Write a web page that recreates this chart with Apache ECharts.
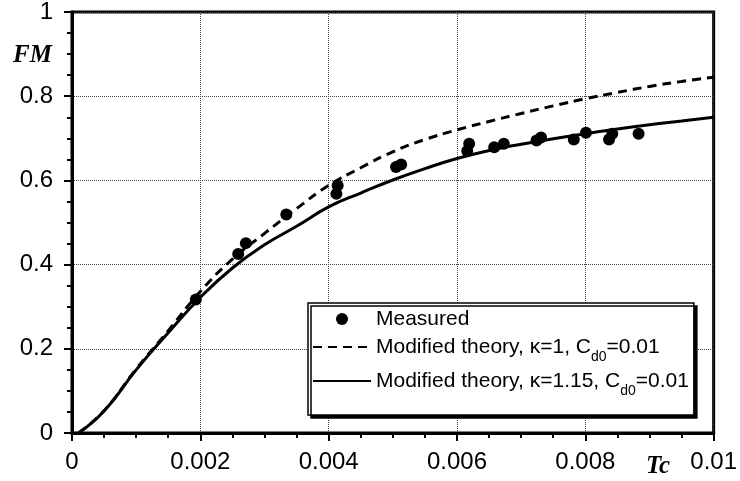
<!DOCTYPE html>
<html style="height: 100%">
   <head>
       <meta charset="utf-8">
   </head>
   <body style="height: 100%; margin: 0; background: #fff">
       <div id="container" style="width: 740px; height: 481px"></div>
       <script type="text/javascript" src="https://cdn.jsdelivr.net/npm/echarts@6/dist/echarts.min.js"></script>

       <script type="text/javascript">
// measured points (Tc, FM)
var measuredTc = [0.00193, 0.00259, 0.00271, 0.00334, 0.00412, 0.00414, 0.00505, 0.00513,
                  0.00616, 0.00619, 0.00658, 0.00673, 0.00724, 0.00731, 0.00782, 0.00801,
                  0.00837, 0.00842, 0.00883];
var measuredFM = [0.317, 0.425, 0.451, 0.519, 0.568, 0.588, 0.632, 0.638,
                  0.670, 0.687, 0.679, 0.687, 0.695, 0.702, 0.697, 0.713,
                  0.697, 0.711, 0.711];

// theory curves
var curveTc = [0.0001, 0.0005, 0.001, 0.0015, 0.002, 0.0025, 0.003, 0.0035, 0.004, 0.0045, 0.005,
               0.0055, 0.006, 0.0065, 0.007, 0.0075, 0.008, 0.0085, 0.009, 0.0095, 0.01];
var kappa1FM = [0, 0.053, 0.152, 0.243, 0.336, 0.413, 0.474, 0.533, 0.588, 0.630, 0.668,
                0.697, 0.720, 0.740, 0.759, 0.777, 0.794, 0.809, 0.823, 0.835, 0.845];
var kappa115FM = [0, 0.052, 0.150, 0.238, 0.322, 0.392, 0.447, 0.491, 0.537, 0.570, 0.601,
                  0.628, 0.652, 0.671, 0.686, 0.699, 0.711, 0.722, 0.732, 0.741, 0.750];

var seriesNames = ['Measured', 'Modified theory, κ=1, Cd0=0.01', 'Modified theory, κ=1.15, Cd0=0.01'];

function pairs(xs, ys) {
    var out = [];
    for (var i = 0; i < xs.length; i++) {
        out.push([xs[i], ys[i]]);
    }
    return out;
}

var dom = document.getElementById("container");
var myChart = echarts.init(dom);

var axisFont = 'Liberation Sans, Arial, sans-serif';
var titleFont = 'Liberation Serif, Times New Roman, serif';

var option = {
    animation: false,
    backgroundColor: '#fff',
    grid: {
        left: 72,
        right: 24.5,
        top: 12,
        bottom: 48,
        show: true,
        borderColor: '#000',
        borderWidth: 3
    },
    xAxis: {
        type: 'value',
        min: 0,
        max: 0.01,
        interval: 0.002,
        axisLine: { onZero: false, lineStyle: { color: '#000', width: 3 } },
        axisTick: { length: 8, lineStyle: { color: '#000', width: 2 } },
        minorTick: { show: true, splitNumber: 4, length: 5, lineStyle: { color: '#000', width: 2 } },
        splitLine: { show: true, lineStyle: { color: '#444', type: 'dotted', width: 1 } },
        axisLabel: {
            color: '#000',
            fontFamily: axisFont,
            fontSize: 24,
            margin: 17,
            formatter: function (v) { return v === 0 ? '0' : String(+v.toFixed(3)); }
        }
    },
    yAxis: {
        type: 'value',
        min: 0,
        max: 1,
        interval: 0.2,
        axisLine: { onZero: false, lineStyle: { color: '#000', width: 3 } },
        axisTick: { length: 8, lineStyle: { color: '#000', width: 2 } },
        minorTick: { show: true, splitNumber: 4, length: 5, lineStyle: { color: '#000', width: 2 } },
        splitLine: { show: true, lineStyle: { color: '#444', type: 'dotted', width: 1 } },
        axisLabel: {
            color: '#000',
            fontFamily: axisFont,
            fontSize: 24,
            margin: 19,
            formatter: function (v) { return String(+v.toFixed(1)); }
        }
    },
    legend: {
        orient: 'vertical',
        left: 308,
        top: 303,
        padding: [5, 5, 17, 4],
        itemGap: 0,
        itemWidth: 58,
        itemHeight: 12,
        backgroundColor: '#fff',
        borderColor: '#000',
        borderWidth: 1.5,
        borderRadius: 0,
        shadowColor: '#000',
        shadowBlur: 0,
        shadowOffsetX: 3,
        shadowOffsetY: 3,
        data: seriesNames,
        formatter: function (name) {
            if (name.indexOf('Cd0') < 0) {
                return name;
            }
            var parts = name.split('Cd0');
            return '{m|' + parts[0] + 'C}{sub|d0}{m|' + parts[1] + '}';
        },
        textStyle: {
            color: '#000',
            fontFamily: axisFont,
            fontSize: 21,
            lineHeight: 22,
            rich: {
                m: {
                    fontFamily: axisFont,
                    fontSize: 21,
                    lineHeight: 34
                },
                sub: {
                    fontFamily: axisFont,
                    fontSize: 14,
                    lineHeight: 14,
                    verticalAlign: 'bottom'
                }
            }
        }
    },
    graphic: [
        {
            type: 'text',
            left: 13,
            top: 43,
            style: {
                text: 'FM',
                fill: '#000',
                font: 'italic bold 25px ' + titleFont
            }
        },
        {
            type: 'text',
            left: 646,
            top: 454,
            style: {
                text: 'Tc',
                fill: '#000',
                font: 'italic bold 25px ' + titleFont
            }
        }
    ],
    series: [
        {
            name: seriesNames[1],
            type: 'line',
            smooth: true,
            symbol: 'none',
            data: pairs(curveTc, kappa1FM),
            lineStyle: { color: '#000', width: 3, type: [9, 6] },
            itemStyle: { color: 'rgba(0,0,0,0)' },
            z: 2
        },
        {
            name: seriesNames[2],
            type: 'line',
            smooth: true,
            symbol: 'none',
            data: pairs(curveTc, kappa115FM),
            lineStyle: { color: '#000', width: 3, type: 'solid' },
            itemStyle: { color: 'rgba(0,0,0,0)' },
            z: 2
        },
        {
            name: seriesNames[0],
            type: 'scatter',
            symbol: 'circle',
            symbolSize: 12,
            data: pairs(measuredTc, measuredFM),
            itemStyle: { color: '#000', opacity: 1 },
            z: 3
        }
    ]
};

myChart.setOption(option);
       </script>
   </body>
</html>
